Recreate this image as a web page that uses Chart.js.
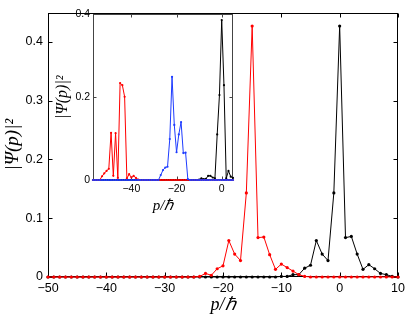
<!DOCTYPE html>
<html>
<head>
<meta charset="utf-8">
<script src="https://cdn.jsdelivr.net/npm/chart.js@4"></script>
<style>
  html, body { margin: 0; padding: 0; background: #fff; }
  #wrap { position: relative; width: 409px; height: 316px; }
  #main-chart { position: absolute; left: 0; top: 0; }
  #inset-chart { position: absolute; left: 50px; top: 5px; }
</style>
</head>
<body>
<div id="wrap">
  <canvas id="main-chart" width="409" height="316"></canvas>
  <canvas id="inset-chart" width="190" height="210"></canvas>
</div>
<script>
// --- Data: main plot (p = -50 .. 10) ---
const pMain = [-50, -49, -48, -47, -46, -45, -44, -43, -42, -41, -40, -39, -38, -37, -36, -35, -34, -33, -32, -31,
  -30, -29, -28, -27, -26, -25, -24, -23, -22, -21, -20, -19, -18, -17, -16, -15, -14, -13, -12, -11,
  -10, -9, -8, -7, -6, -5, -4, -3, -2, -1, 0, 1, 2, 3, 4, 5, 6, 7, 8, 9, 10];
const mainRed = [0, 0, 0, 0, 0, 0, 0, 0, 0, 0, 0, 0, 0, 0, 0, 0, 0, 0, 0, 0,
  0, 0, 0, 0, 0, 0, 0.001, 0.006, 0.003, 0.014, 0.019, 0.062, 0.039, 0.028, 0.143, 0.427, 0.067, 0.068, 0.038, 0.013,
  0.022, 0.016, 0.010, 0.004, 0.001, 0, 0, 0, 0, 0, 0, 0, 0, 0, 0, 0, 0, 0, 0, 0, 0];
const mainBlack = [0, 0, 0, 0, 0, 0, 0, 0, 0, 0, 0, 0, 0, 0, 0, 0, 0, 0, 0, 0,
  0, 0, 0, 0, 0, 0, 0, 0, 0, 0, 0, 0, 0, 0, 0, 0, 0, 0, 0, 0,
  0.001, 0.001, 0.004, 0.004, 0.015, 0.020, 0.062, 0.039, 0.028, 0.143, 0.427, 0.067, 0.069, 0.039, 0.013, 0.021, 0.014, 0.006, 0.004, 0.001, 0];
const mainXTicks = [-50, -40, -30, -20, -10, 0, 10];
const mainYTicks = [0, 0.1, 0.2, 0.3, 0.4];

// --- Data: inset (p = -57 .. 5) ---
const pInset = [-57, -56, -55, -54, -53, -52, -51, -50, -49, -48, -47, -46, -45, -44, -43, -42, -41, -40, -39, -38,
  -37, -36, -35, -34, -33, -32, -31, -30, -29, -28, -27, -26, -25, -24, -23, -22, -21, -20, -19, -18,
  -17, -16, -15, -14, -13, -12, -11, -10, -9, -8, -7, -6, -5, -4, -3, -2, -1, 0, 1, 2, 3, 4, 5];
const insetRed = [0, 0, 0, 0, 0.009, 0.016, 0.022, 0.027, 0.114, 0.010, 0.113, 0.005, 0.234, 0.229, 0.201, 0.004, 0.014, 0.006, 0.010, 0.005,
  0.001, 0, 0, 0, 0, 0, 0, 0, 0, 0, 0, 0, 0, 0, 0, 0, 0, 0, 0, 0,
  0, 0, 0, 0, 0, 0, 0, 0, 0, 0, 0, 0, 0, 0, 0, 0, 0, 0, 0, 0, 0, 0, 0];
const insetBlue = [0, 0, 0, 0, 0, 0, 0, 0, 0, 0, 0, 0, 0, 0, 0, 0, 0, 0, 0, 0,
  0, 0, 0, 0, 0, 0, 0, 0, 0, 0, 0.012, 0.024, 0.030, 0.032, 0.099, 0.249, 0.133, 0.067, 0.110, 0.140,
  0.065, 0.066, 0.002, 0, 0, 0, 0, 0, 0, 0, 0, 0, 0, 0, 0, 0, 0, 0, 0, 0, 0, 0, 0];
const insetBlack = [0, 0, 0, 0, 0, 0, 0, 0, 0, 0, 0, 0, 0, 0, 0, 0, 0, 0, 0, 0,
  0, 0, 0, 0, 0, 0, 0, 0, 0, 0, 0, 0, 0, 0, 0, 0, 0, 0, 0, 0,
  0, 0, 0, 0, 0, 0, 0, 0.001, 0.004, 0.002, 0.003, 0.010, 0.010, 0.006, 0.004, 0.110, 0.205, 0.386, 0.229, 0.004, 0.022, 0.008, 0.005];
const insetXTicks = [-40, -20, 0];
const insetYTicks = [0, 0.2, 0.4];

const toPoints = (xs, ys) => xs.map((x, i) => ({ x, y: ys[i] }));
const minusSign = (v) => String(v).replace("-", "\u2212");

// white plot area + box + inward tick marks (MATLAB style)
const framePlugin = {
  id: "frame",
  beforeDraw(chart, args, opts) {
    if (!opts.fill) return;
    const { ctx, chartArea: a } = chart;
    ctx.save();
    ctx.fillStyle = "#fff";
    ctx.fillRect(a.left, a.top, a.right - a.left, a.bottom - a.top);
    ctx.restore();
  },
  beforeDatasetsDraw(chart, args, opts) {
    const { ctx, chartArea: a, scales } = chart;
    const L = Math.round(a.left) + 0.5, R = Math.round(a.right) - 0.5;
    const T = Math.round(a.top) + 0.5, B = Math.round(a.bottom) - 0.5;
    const len = opts.tickLen;
    ctx.save();
    ctx.lineWidth = 1;
    ctx.strokeStyle = opts.color;
    ctx.beginPath();
    scales.x.ticks.forEach((t) => {
      const px = Math.round(scales.x.getPixelForValue(t.value)) + 0.5;
      ctx.moveTo(px, B); ctx.lineTo(px, B - len);
      ctx.moveTo(px, T); ctx.lineTo(px, T + len);
    });
    scales.y.ticks.forEach((t) => {
      const py = Math.round(scales.y.getPixelForValue(t.value)) + 0.5;
      ctx.moveTo(L, py); ctx.lineTo(L + len, py);
      ctx.moveTo(R, py); ctx.lineTo(R - len, py);
    });
    ctx.stroke();
    ctx.strokeRect(L, T, R - L, B - T);
    ctx.restore();
  },
};

function lineSet(label, data, color, radius) {
  return {
    label,
    data,
    borderColor: color,
    backgroundColor: color,
    borderWidth: 1,
    pointRadius: radius,
    pointHoverRadius: radius,
    pointBorderWidth: 0,
    tension: 0,
    clip: false,
  };
}

// --- Main chart ---
new Chart(document.getElementById("main-chart"), {
  type: "line",
  data: {
    datasets: [
      lineSet("red", toPoints(pMain, mainRed), "#ff0000", 1.6),
      lineSet("black", toPoints(pMain, mainBlack), "#000000", 1.6),
    ],
  },
  plugins: [framePlugin],
  options: {
    responsive: false,
    animation: false,
    devicePixelRatio: 1,
    layout: { padding: { top: 3, right: 11, left: 0, bottom: 0 } },
    plugins: {
      legend: { display: false },
      tooltip: { enabled: false },
      frame: { color: "#000", tickLen: 4, fill: false },
    },
    scales: {
      x: {
        type: "linear",
        min: -50,
        max: 10,
        afterBuildTicks: (s) => { s.ticks = mainXTicks.map((v) => ({ value: v })); },
        afterFit: (s) => { s.height = 39; },
        grid: { display: false, drawTicks: false },
        border: { display: false },
        ticks: {
          padding: 4,
          color: "#000",
          font: { family: "Liberation Sans", size: 12.5 },
          callback: (v) => minusSign(v),
        },
        title: {
          display: true,
          text: "p/\u210F",
          color: "#000",
          font: { family: "Liberation Serif", style: "italic", size: 18 },
          padding: { top: 4, bottom: 0 },
        },
      },
      y: {
        min: 0,
        max: 0.45,
        afterBuildTicks: (s) => { s.ticks = mainYTicks.map((v) => ({ value: v })); },
        afterFit: (s) => { s.width = 48; },
        grid: { display: false, drawTicks: false },
        border: { display: false },
        ticks: {
          padding: 5,
          color: "#000",
          font: { family: "Liberation Sans", size: 12.5 },
        },
        title: {
          display: true,
          text: "|\u03A8(p)|\u00B2",
          color: "#000",
          font: { family: "Liberation Serif", style: "italic", size: 19 },
          padding: { top: 2, bottom: 0 },
        },
      },
    },
  },
});

// --- Inset chart ---
new Chart(document.getElementById("inset-chart"), {
  type: "line",
  data: {
    datasets: [
      lineSet("blue", toPoints(pInset, insetBlue), "#1e3cff", 1.1),
      lineSet("red", toPoints(pInset, insetRed), "#ff0000", 1.1),
      lineSet("black", toPoints(pInset, insetBlack), "#000000", 1.1),
    ],
  },
  plugins: [framePlugin],
  options: {
    responsive: false,
    animation: false,
    devicePixelRatio: 1,
    layout: { padding: { top: 6, right: 7, left: 0, bottom: 0 } },
    plugins: {
      legend: { display: false },
      tooltip: { enabled: false },
      frame: { color: "#444", tickLen: 3, fill: true },
    },
    scales: {
      x: {
        type: "linear",
        min: -57,
        max: 5,
        afterBuildTicks: (s) => { s.ticks = insetXTicks.map((v) => ({ value: v })); },
        afterFit: (s) => { s.height = 35; },
        grid: { display: false, drawTicks: false },
        border: { display: false },
        ticks: {
          padding: 3,
          color: "#000",
          font: { family: "Liberation Sans", size: 10.5 },
          callback: (v) => minusSign(v),
        },
        title: {
          display: true,
          text: "p/\u210F",
          color: "#000",
          font: { family: "Liberation Serif", style: "italic", size: 15 },
          padding: { top: 1, bottom: 0 },
        },
      },
      y: {
        min: 0,
        max: 0.4,
        afterBuildTicks: (s) => { s.ticks = insetYTicks.map((v) => ({ value: v })); },
        afterFit: (s) => { s.width = 43; },
        grid: { display: false, drawTicks: false },
        border: { display: false },
        ticks: {
          padding: 3,
          color: "#000",
          font: { family: "Liberation Sans", size: 10.5 },
        },
        title: {
          display: true,
          text: "|\u03A8(p)|\u00B2",
          color: "#000",
          font: { family: "Liberation Serif", style: "italic", size: 16 },
          padding: { top: 3, bottom: 0 },
        },
      },
    },
  },
});
</script>
</body>
</html>
